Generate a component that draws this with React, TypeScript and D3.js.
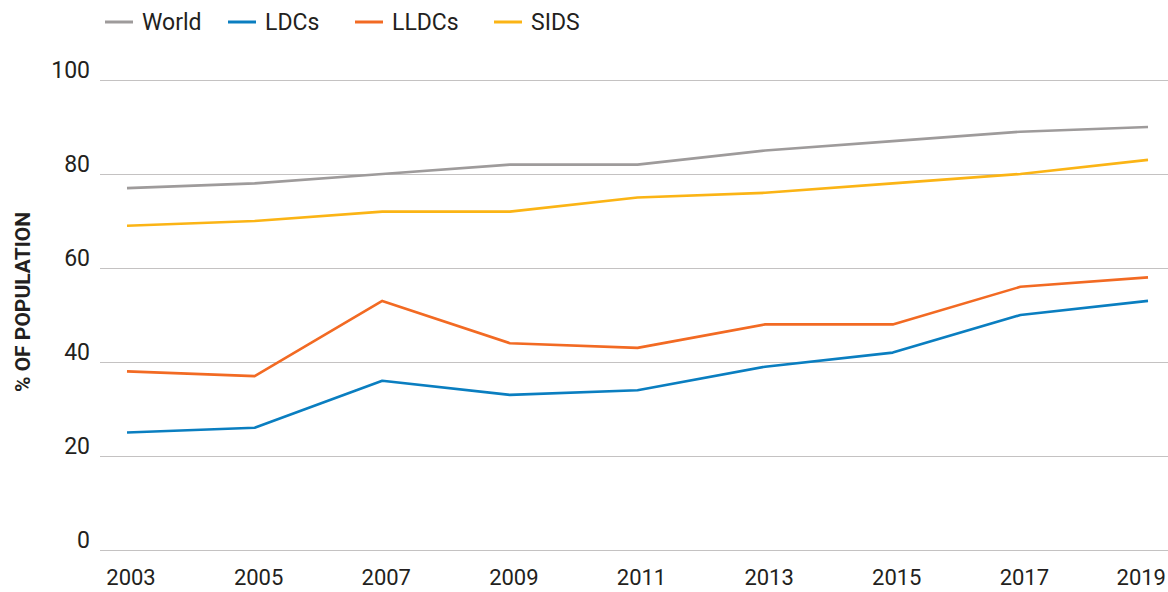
import React from 'react';
import { scaleLinear, scalePoint, line } from 'd3';

const years = ['2003', '2005', '2007', '2009', '2011', '2013', '2015', '2017', '2019'];
const world = [77, 78, 80, 82, 82, 85, 87, 89, 90];
const ldcs = [25, 26, 36, 33, 34, 39, 42, 50, 53];
const lldcs = [38, 37, 53, 44, 43, 48, 48, 56, 58];
const sids = [69, 70, 72, 72, 75, 76, 78, 80, 83];
const yTicks = [0, 20, 40, 60, 80, 100];

const seriesNames = ['World', 'LDCs', 'LLDCs', 'SIDS'];
const seriesColors = ['#9e9b9b', '#0a7ec0', '#f26a23', '#fbb415'];
const seriesData = [world, ldcs, lldcs, sids];

const width = 1168;
const height = 592;
const font = 'Roboto, "Noto Sans", sans-serif';

const App = () => {
  const x = scalePoint<string>().domain(years).range([127, 1148]);
  const y = scaleLinear().domain([0, 100]).range([550, 80]);

  const path = line<number>()
    .x((d, i) => x(years[i]) as number)
    .y(d => y(d));

  // legend positions
  const legendX = [105, 228, 355, 494];

  return (
    <svg width={width} height={height} style={{ position: 'absolute', left: 0, top: 0 }}>
      <rect width={width} height={height} fill="#fff" />

      {yTicks.map(t => (
        <g key={t}>
          <line x1={100} x2={width} y1={Math.round(y(t)) + 0.5} y2={Math.round(y(t)) + 0.5}
            stroke="#c4c2c2" strokeWidth={1.2} />
          <text x={90} y={y(t) - 2} textAnchor="end" fontFamily={font} fontSize={23} fill="#231f20">{t}</text>
        </g>
      ))}

      {years.map((yr, i) => (
        <text key={yr}
          x={i === years.length - 1 ? width - 2 : (x(yr) as number) + 4}
          y={585}
          textAnchor={i === years.length - 1 ? 'end' : 'middle'}
          fontFamily={font} fontSize={22} fill="#231f20">{yr}</text>
      ))}

      <text transform="translate(30,302) rotate(-90)" textAnchor="middle"
        fontFamily={font} fontSize={21} fontWeight={700} fill="#231f20">% OF POPULATION</text>

      {seriesData.map((d, i) => (
        <path key={seriesNames[i]} d={path(d) || ''} fill="none"
          stroke={seriesColors[i]} strokeWidth={2.6} strokeLinejoin="round" />
      ))}

      {seriesNames.map((n, i) => (
        <g key={n}>
          <line x1={legendX[i]} x2={legendX[i] + 28} y1={22} y2={22} stroke={seriesColors[i]} strokeWidth={3} />
          <text x={legendX[i] + 37} y={30} fontFamily={font} fontSize={23} fill="#231f20">{n}</text>
        </g>
      ))}
    </svg>
  );
};

export default App;
